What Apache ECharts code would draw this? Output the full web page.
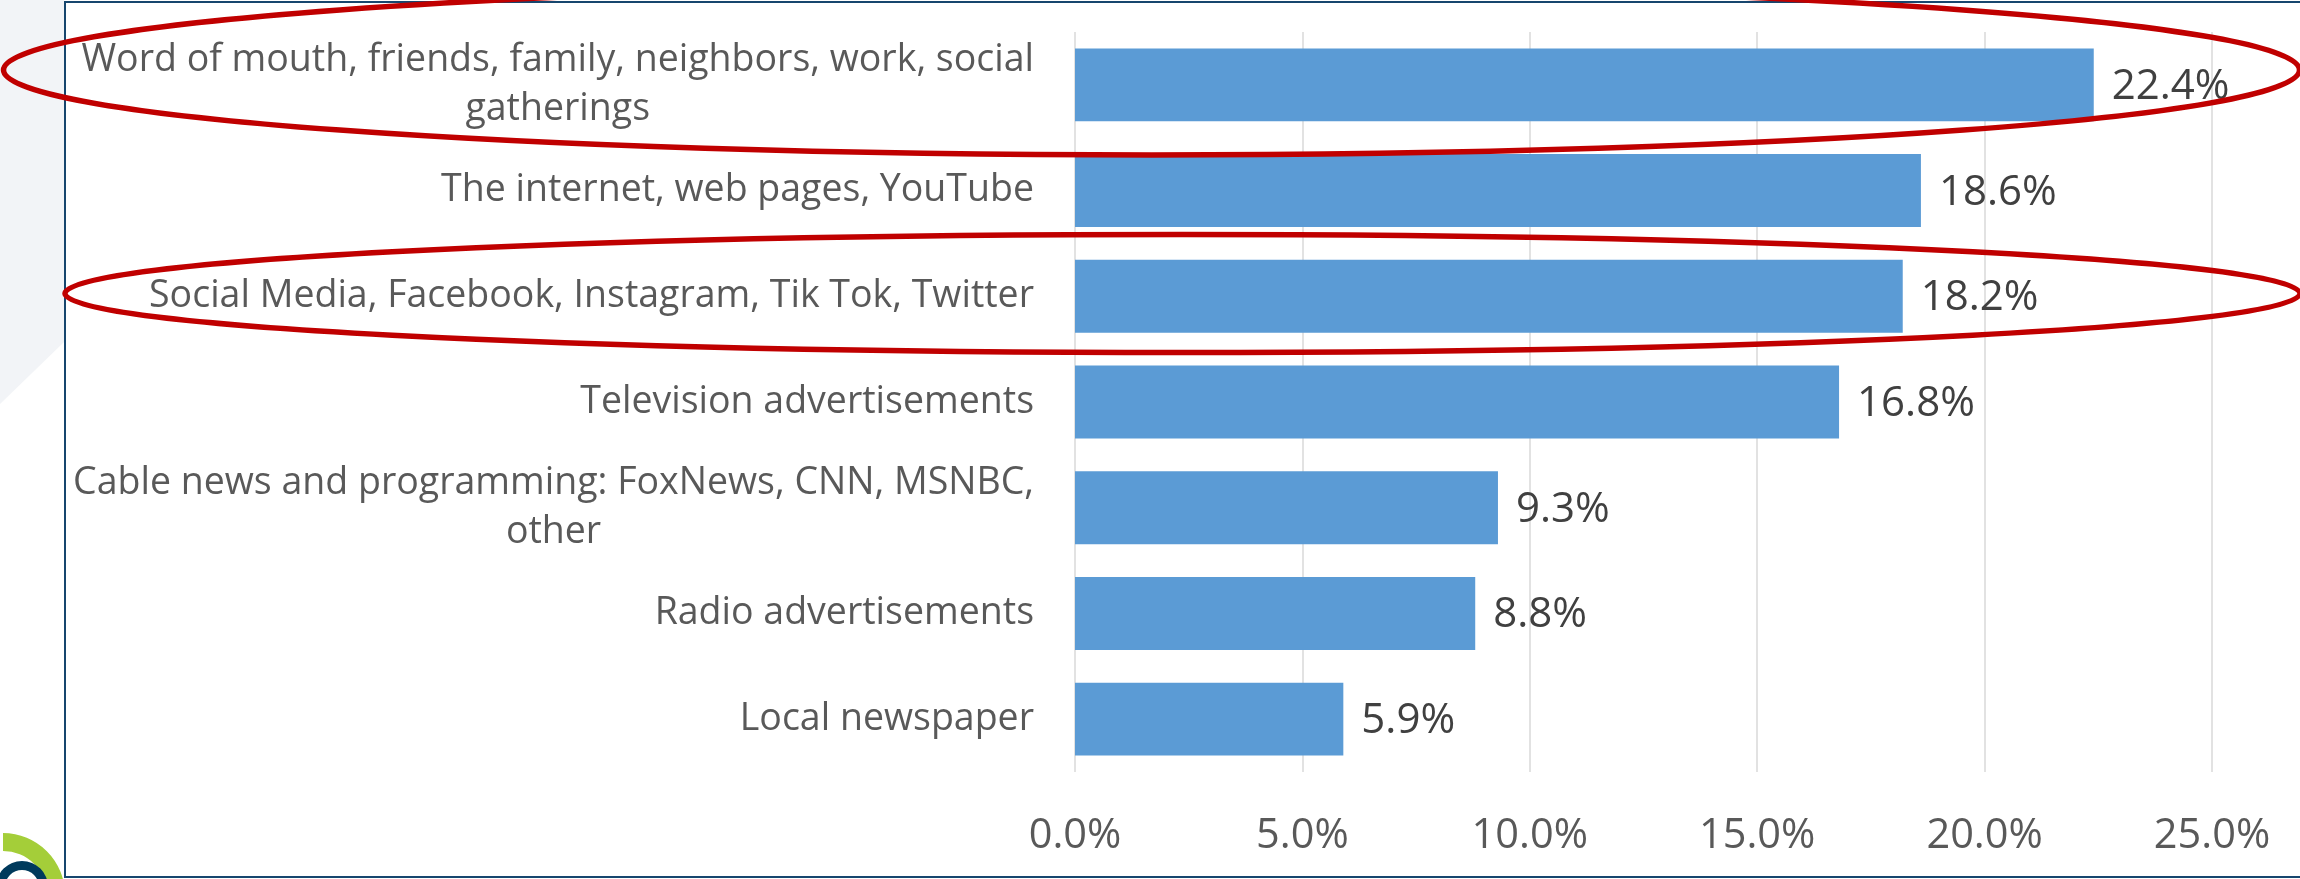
<!DOCTYPE html>
<html>
<head>
<meta charset="utf-8">
<script src="https://cdn.jsdelivr.net/npm/echarts@6/dist/echarts.min.js"></script>
<style>
  html, body { margin: 0; padding: 0; background: #ffffff; }
  #chart { width: 2300px; height: 879px; }
</style>
</head>
<body>
<div id="chart"></div>
<script>
// Information sources, top to bottom ("\n" marks a line break in the label)
const categories = [
  'Word of mouth, friends, family, neighbors, work, social\ngatherings',
  'The internet, web pages, YouTube',
  'Social Media, Facebook, Instagram, Tik Tok, Twitter',
  'Television advertisements',
  'Cable news and programming: FoxNews, CNN, MSNBC,\nother',
  'Radio advertisements',
  'Local newspaper'
];

// Share of respondents, in percent
const shares = [22.4, 18.6, 18.2, 16.8, 9.3, 8.8, 5.9];

// Value axis ticks, in percent
const axisTicks = [0, 5, 10, 15, 20, 25];

const FONT = '"Open Sans", "Noto Sans", sans-serif';

const chart = echarts.init(document.getElementById('chart'), null, { renderer: 'canvas' });

// Each line of a category label is its own token, centred inside the label block
const wrapLines = (text) => text.split('\n').map(l => '{c|' + l + '}').join('\n');

const option = {
  backgroundColor: '#ffffff',
  animation: false,
  grid: {
    left: 1075,
    top: 32,
    width: 1137,
    height: 740,
    containLabel: false
  },
  xAxis: {
    type: 'value',
    min: axisTicks[0],
    max: axisTicks[axisTicks.length - 1],
    interval: axisTicks[1] - axisTicks[0],
    axisLine: { show: false },
    axisTick: { show: false },
    splitLine: { show: true, lineStyle: { color: '#D9D9D9', width: 1.5 } },
    axisLabel: {
      margin: 43,
      fontFamily: FONT,
      fontSize: 41.5,
      lineHeight: 42,
      color: '#595959',
      formatter: (v) => v.toFixed(1) + '%'
    }
  },
  yAxis: {
    type: 'category',
    inverse: true,
    data: categories,
    axisLine: { show: false },
    axisTick: { show: false },
    splitLine: { show: false },
    axisLabel: {
      margin: 41,
      align: 'right',
      formatter: wrapLines,
      rich: {
        c: {
          align: 'center',
          fontFamily: FONT,
          fontSize: 37.5,
          lineHeight: 49,
          color: '#595959'
        }
      }
    }
  },
  series: [{
    type: 'bar',
    data: shares,
    barCategoryGap: '31%',
    itemStyle: { color: '#5B9BD5' },
    label: {
      show: true,
      position: 'right',
      distance: 18,
      offset: [0, 2],
      fontFamily: FONT,
      fontSize: 42,
      color: '#404040',
      formatter: (p) => p.value.toFixed(1) + '%'
    }
  }],
  graphic: [
    // light panel strip to the left of the frame
    {
      type: 'polygon',
      z: 0,
      shape: { points: [[0, 0], [64, 0], [64, 342], [0, 404]] },
      style: { fill: '#F2F4F7' }
    },
    // frame around the chart area
    {
      type: 'rect',
      z: 50,
      shape: { x: 65, y: 2, width: 2300, height: 875 },
      style: { fill: 'none', stroke: '#17466E', lineWidth: 2 }
    },
    // corner logo: green arc and dark ring
    {
      type: 'sector',
      z: 1,
      shape: { cx: 3, cy: 895, r: 62, r0: 44, startAngle: -Math.PI / 2, endAngle: 0, clockwise: true },
      style: { fill: '#A4CE39' }
    },
    {
      type: 'ring',
      z: 2,
      shape: { cx: 22, cy: 887, r: 26, r0: 17 },
      style: { fill: '#003A5C' }
    },
    // red highlight ellipses
    {
      type: 'ellipse',
      z: 100,
      shape: { cx: 1151.5, cy: 70, rx: 1148, ry: 85 },
      style: { fill: 'none', stroke: '#C00000', lineWidth: 5.5 }
    },
    {
      type: 'ellipse',
      z: 100,
      shape: { cx: 1182.5, cy: 293.5, rx: 1117.5, ry: 59 },
      style: { fill: 'none', stroke: '#C00000', lineWidth: 5.5 }
    }
  ]
};

chart.setOption(option);
</script>
</body>
</html>
